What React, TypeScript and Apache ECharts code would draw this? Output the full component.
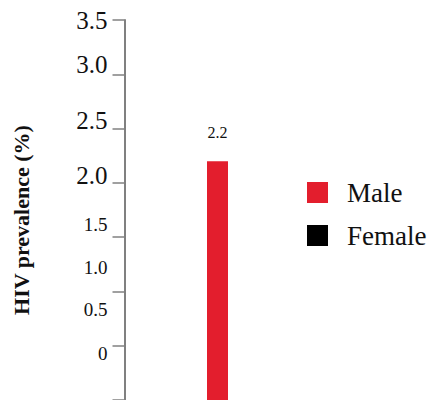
import React, { useEffect, useRef } from "react";
import * as echarts from "echarts";

const categories = [""];
const maleValues = [2.2];
const femaleValues: (number | null)[] = [null];
const seriesNames = ["Male", "Female"];
const tickLabels = ["3.5", "3.0", "2.5", "2.0", "1.5", "1.0", "0.5", "0"];
// axis values at which the (misaligned) tick labels sit in the reference
const tickLabelAnchors = [3.5, 3.09, 2.57, 2.07, 1.62, 1.22, 0.83, 0.43];

const SERIF = "'Liberation Serif', 'Times New Roman', serif";

export default function App() {
  const ref = useRef<HTMLDivElement>(null);
  useEffect(() => {
    if (!ref.current) return;
    const chart = echarts.init(ref.current, null, { renderer: "svg" });
    chart.setOption({
      animation: false,
      backgroundColor: "#ffffff",
      grid: { left: 124.5, top: 20, bottom: -5, right: 122.5, containLabel: false },
      legend: {
        orient: "vertical",
        left: 302,
        top: 174,
        icon: "rect",
        itemWidth: 21,
        itemHeight: 21,
        itemGap: 16,
        selectedMode: false,
        textStyle: {
          fontFamily: SERIF,
          fontSize: 27,
          color: "#111",
          padding: [0, 0, 0, 14],
        },
        data: seriesNames,
      },
      xAxis: {
        type: "category",
        data: categories,
        axisLine: { show: false },
        axisTick: { show: false },
        axisLabel: { show: false },
      },
      yAxis: {
        type: "value",
        min: 0,
        max: 3.5,
        interval: 0.5,
        name: "HIV prevalence (%)",
        nameLocation: "middle",
        nameGap: 92,
        nameTextStyle: {
          fontFamily: SERIF,
          fontWeight: "bold",
          fontSize: 22,
          color: "#111",
          padding: [0, 20, 0, 0],
        },
        splitLine: { show: false },
        axisLine: { show: true, lineStyle: { color: "#808080", width: 2 } },
        axisTick: { show: true, length: 12, lineStyle: { color: "#808080", width: 1.5 } },
        axisLabel: {
          show: true,
          margin: 17,
          customValues: tickLabelAnchors,
          formatter: (value: number) => {
            let idx = 0;
            let best = Infinity;
            tickLabelAnchors.forEach((v, i) => {
              const d = Math.abs(v - value);
              if (d < best) {
                best = d;
                idx = i;
              }
            });
            return `{${idx < 4 ? "big" : "small"}|${tickLabels[idx]}}`;
          },
          rich: {
            big: { fontFamily: SERIF, fontSize: 25, color: "#111" },
            small: { fontFamily: SERIF, fontSize: 19, color: "#111" },
          },
        },
      },
      series: [
        {
          name: seriesNames[0],
          type: "bar",
          data: maleValues,
          barWidth: 21,
          barGap: "-100%",
          itemStyle: { color: "#e31e2d" },
          label: {
            show: true,
            position: "top",
            distance: 21,
            fontFamily: SERIF,
            fontSize: 16,
            color: "#111",
          },
        },
        {
          name: seriesNames[1],
          type: "bar",
          data: femaleValues,
          barWidth: 21,
          barGap: "-100%",
          itemStyle: { color: "#000000" },
        },
      ],
    });
    return () => chart.dispose();
  }, []);
  return (
    <div
      ref={ref}
      style={{ position: "absolute", left: 0, top: 0, width: 433, height: 400 }}
    />
  );
}
